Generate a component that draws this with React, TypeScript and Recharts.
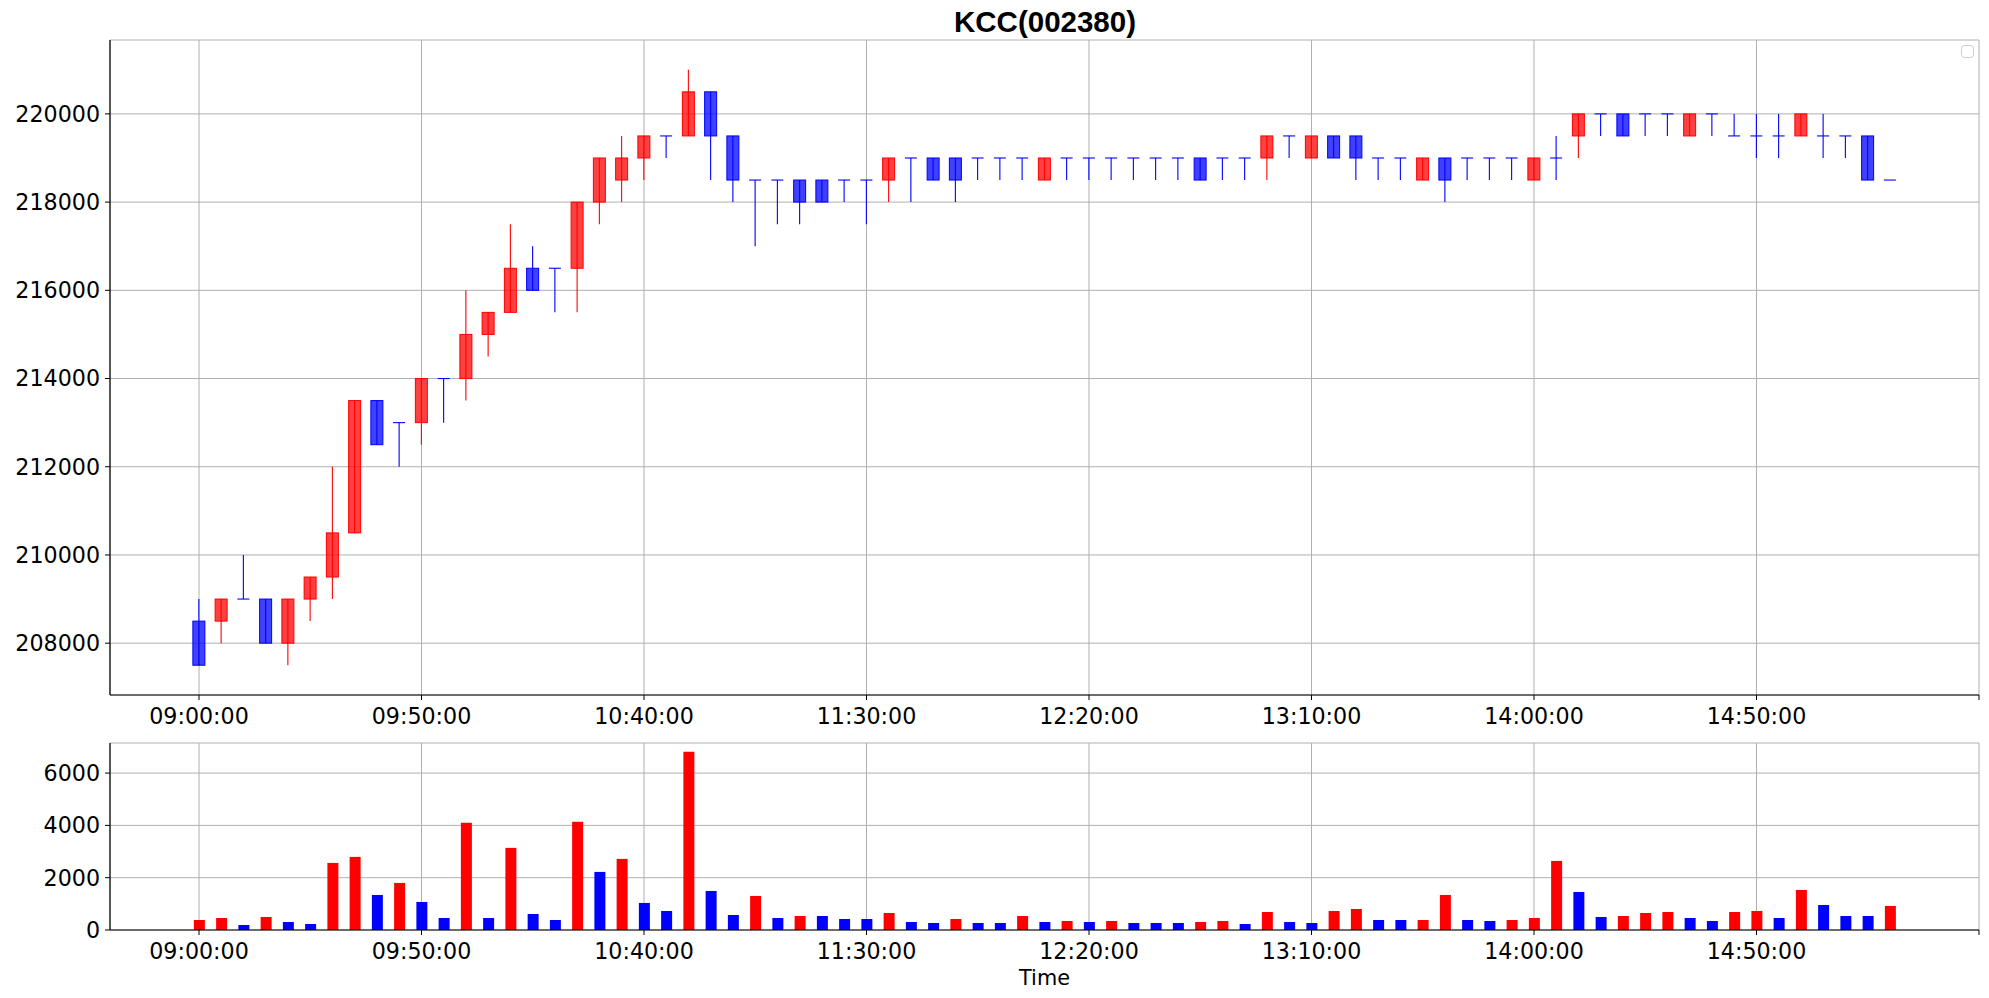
import { ComposedChart, Bar, Cell, XAxis, YAxis, CartesianGrid } from 'recharts';

// 5-minute candles from 09:00 (slot 0) to 15:20 (slot 76)
const opens = [
  208500, 208500, 209000, 209000, 208000, 209000, 209500, 210500, 213500, 213000,
  213000, 214000, 214000, 215000, 215500, 216500, 216500, 216500, 218000, 218500,
  219000, 219500, 219500, 220500, 219500, 218500, 218500, 218500, 218500, 218500,
  218500, 218500, 219000, 219000, 219000, 219000, 219000, 219000, 218500, 219000,
  219000, 219000, 219000, 219000, 219000, 219000, 219000, 219000, 219000, 219500,
  219000, 219500, 219500, 219000, 219000, 218500, 219000, 219000, 219000, 219000,
  218500, 219000, 219500, 220000, 220000, 220000, 220000, 219500, 220000, 219500,
  219500, 219500, 219500, 219500, 219500, 219500, 218500,
];
const highs = [
  209000, 209000, 210000, 209000, 209000, 209500, 212000, 213500, 213500, 213000,
  214000, 214000, 216000, 215500, 217500, 217000, 216500, 218000, 219000, 219500,
  219500, 219500, 221000, 220500, 219500, 218500, 218500, 218500, 218500, 218500,
  218500, 219000, 219000, 219000, 219000, 219000, 219000, 219000, 219000, 219000,
  219000, 219000, 219000, 219000, 219000, 219000, 219000, 219000, 219500, 219500,
  219500, 219500, 219500, 219000, 219000, 219000, 219000, 219000, 219000, 219000,
  219000, 219500, 220000, 220000, 220000, 220000, 220000, 220000, 220000, 220000,
  220000, 220000, 220000, 220000, 219500, 219500, 218500,
];
const lows = [
  207500, 208000, 209000, 208000, 207500, 208500, 209000, 210500, 212500, 212000,
  212500, 213000, 213500, 214500, 215500, 216000, 215500, 215500, 217500, 218000,
  218500, 219000, 219500, 218500, 218000, 217000, 217500, 217500, 218000, 218000,
  217500, 218000, 218000, 218500, 218000, 218500, 218500, 218500, 218500, 218500,
  218500, 218500, 218500, 218500, 218500, 218500, 218500, 218500, 218500, 219000,
  219000, 219000, 218500, 218500, 218500, 218500, 218000, 218500, 218500, 218500,
  218500, 218500, 219000, 219500, 219500, 219500, 219500, 219500, 219500, 219500,
  219000, 219000, 219500, 219000, 219000, 218500, 218500,
];
const closes = [
  207500, 209000, 209000, 208000, 209000, 209500, 210500, 213500, 212500, 213000,
  214000, 214000, 215000, 215500, 216500, 216000, 216500, 218000, 219000, 219000,
  219500, 219500, 220500, 219500, 218500, 218500, 218500, 218000, 218000, 218500,
  218500, 219000, 219000, 218500, 218500, 219000, 219000, 219000, 219000, 219000,
  219000, 219000, 219000, 219000, 219000, 218500, 219000, 219000, 219500, 219500,
  219500, 219000, 219000, 219000, 219000, 219000, 218500, 219000, 219000, 219000,
  219000, 219000, 220000, 220000, 219500, 220000, 220000, 220000, 220000, 219500,
  219500, 219500, 220000, 219500, 219500, 218500, 218500,
];
const volumes = [
  383, 460, 191, 498, 306, 230, 2565, 2795, 1340, 1800,
  1072, 460, 4097, 460, 3140, 613, 383, 4135, 2221, 2719,
  1034, 728, 6815, 1493, 574, 1302, 460, 536, 536, 421,
  421, 651, 306, 268, 421, 268, 268, 536, 306, 345,
  306, 345, 268, 268, 268, 306, 345, 230, 689, 306,
  268, 728, 804, 383, 383, 383, 1340, 383, 345, 383,
  460, 2642, 1455, 498, 536, 651, 689, 460, 345, 689,
  728, 460, 1532, 957, 536, 536, 919,
];
// 1 = rising volume bar (red), 0 = falling (blue)
const volumeUp = [
  1, 1, 0, 1, 0, 0, 1, 1, 0, 1,
  0, 0, 1, 0, 1, 0, 0, 1, 0, 1,
  0, 0, 1, 0, 0, 1, 0, 1, 0, 0,
  0, 1, 0, 0, 1, 0, 0, 1, 0, 1,
  0, 1, 0, 0, 0, 1, 1, 0, 1, 0,
  0, 1, 1, 0, 0, 1, 1, 0, 0, 1,
  1, 1, 0, 0, 1, 1, 1, 0, 0, 1,
  1, 0, 1, 0, 0, 0, 1,
];

const timeTicks = [0, 10, 20, 30, 40, 50, 60, 70, 80];
const timeLabels = ['09:00:00', '09:50:00', '10:40:00', '11:30:00', '12:20:00', '13:10:00', '14:00:00', '14:50:00', ''];
const priceTicks = [208000, 210000, 212000, 214000, 216000, 218000, 220000];
const volumeTicks = [0, 2000, 4000, 6000];

const rows = opens.map((open, i) => ({
  slot: i,
  open,
  high: highs[i],
  low: lows[i],
  close: closes[i],
  volume: volumes[i],
  volUp: volumeUp[i] === 1,
}));

const RED = '#ff0000';
const BLUE = '#0000ff';
const GRID = '#b0b0b0';
const X_DOMAIN: [number, number] = [-4, 80];
const PRICE_DOMAIN: [number, number] = [206825, 221675];
const VOL_DOMAIN: [number, number] = [0, 7150];

const tickFont = { fill: '#000', fontSize: 22.2, fontFamily: 'DejaVu Sans' };
const fmtTime = (v: number) => timeLabels[timeTicks.indexOf(v)] ?? '';

const Candle = (props: any) => {
  const { x, y, width, height, payload } = props;
  if (!payload || x == null || y == null) return null;
  const { open, close, high, low } = payload;
  const span = high - low;
  const ratio = span > 0 ? height / span : 0;
  const py = (v: number) => y + (high - v) * ratio;
  const color = close > open ? RED : BLUE;
  const cx = x + width / 2;
  const top = py(Math.max(open, close));
  const bottom = py(Math.min(open, close));
  return (
    <g>
      {bottom - top > 0.5 ? (
        <rect x={x} y={top} width={width} height={bottom - top}
          fill={color} fillOpacity={0.75} stroke={color} strokeWidth={1} />
      ) : (
        <line x1={x} x2={x + width} y1={top} y2={top} stroke={color} strokeWidth={1.1} />
      )}
      {span > 0 && <line x1={cx} x2={cx} y1={py(high)} y2={py(low)} stroke={color} strokeWidth={1.1} />}
    </g>
  );
};

const frameAxes = (domainY: [number, number]) => [
  <XAxis key="tx" xAxisId="top" orientation="top" type="number" domain={X_DOMAIN}
    height={0} tick={false} tickLine={false} axisLine={{ stroke: '#000', strokeWidth: 1.2 }} />,
  <YAxis key="ry" yAxisId="right" orientation="right" type="number" domain={domainY}
    width={0} tick={false} tickLine={false} axisLine={{ stroke: '#000', strokeWidth: 1.2 }} />,
];

export default function App() {
  return (
    <div style={{ position: 'absolute', left: 0, top: 0, width: 1989, height: 998, background: '#fff', overflow: 'hidden' }}>
      <svg width={1989} height={40} style={{ position: 'absolute', left: 0, top: 0 }}>
        <text x={1045} y={31.5} textAnchor="middle" fontFamily="Liberation Sans, Arial, sans-serif"
          fontWeight="bold" fontSize={29.5} fill="#000">KCC(002380)</text>
      </svg>

      <div style={{ position: 'absolute', left: 0, top: 0 }}>
        <ComposedChart width={1989} height={740} data={rows}
          margin={{ top: 40, right: 10, bottom: 5, left: 0 }}>
          <CartesianGrid stroke={GRID} strokeWidth={1} />
          <XAxis dataKey="slot" type="number" domain={X_DOMAIN} ticks={timeTicks} allowDataOverflow
            tickFormatter={fmtTime} interval={0} height={40} tickSize={5} tickMargin={8}
            tick={tickFont} axisLine={{ stroke: '#000', strokeWidth: 1.2 }} tickLine={{ stroke: '#000' }} />
          <YAxis type="number" domain={PRICE_DOMAIN} ticks={priceTicks} allowDataOverflow
            width={110} tickSize={5} tickMargin={5} tick={tickFont}
            axisLine={{ stroke: '#000', strokeWidth: 1.2 }} tickLine={{ stroke: '#000' }} />
          {frameAxes(PRICE_DOMAIN)}
          <Bar dataKey={(d: any) => [d.low, d.high]} barSize={12} shape={Candle} isAnimationActive={false} />
        </ComposedChart>
      </div>

      <svg width={16} height={16} style={{ position: 'absolute', left: 1960, top: 44 }}>
        <rect x={1.5} y={1.5} width={12} height={12} rx={3} fill="#fff" stroke="#cccccc" strokeWidth={1} />
      </svg>

      <div style={{ position: 'absolute', left: 0, top: 700 }}>
        <ComposedChart width={1989} height={298} data={rows}
          margin={{ top: 43, right: 10, bottom: 0, left: 0 }}>
          <CartesianGrid stroke={GRID} strokeWidth={1} />
          <XAxis dataKey="slot" type="number" domain={X_DOMAIN} ticks={timeTicks} allowDataOverflow
            tickFormatter={fmtTime} interval={0} height={68} tickSize={5} tickMargin={8}
            tick={tickFont} axisLine={{ stroke: '#000', strokeWidth: 1.2 }} tickLine={{ stroke: '#000' }}
            label={{ value: 'Time', position: 'insideBottom', offset: 13, fill: '#000', fontSize: 20.8, fontFamily: 'DejaVu Sans' }} />
          <YAxis type="number" domain={VOL_DOMAIN} ticks={volumeTicks} allowDataOverflow
            width={110} tickSize={5} tickMargin={5} tick={tickFont}
            axisLine={{ stroke: '#000', strokeWidth: 1.2 }} tickLine={{ stroke: '#000' }} />
          {frameAxes(VOL_DOMAIN)}
          <Bar dataKey="volume" barSize={11} isAnimationActive={false}>
            {rows.map((r, i) => (
              <Cell key={`v-${i}`} fill={r.volUp ? RED : BLUE} />
            ))}
          </Bar>
        </ComposedChart>
      </div>
    </div>
  );
}
